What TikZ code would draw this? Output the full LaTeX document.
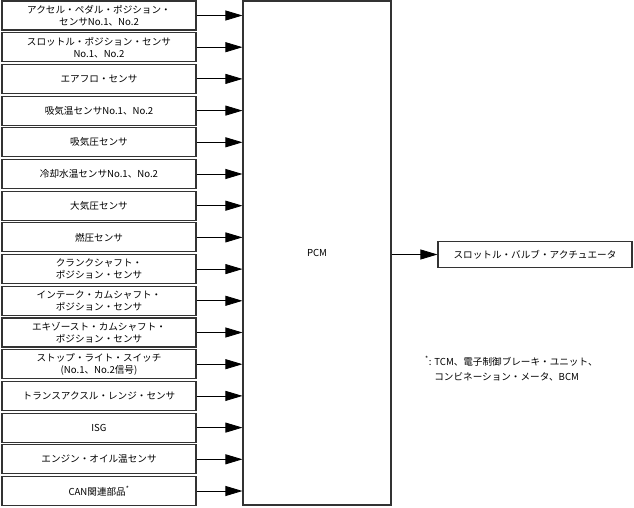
\documentclass[tikz,border=0pt]{standalone}
\usepackage{fontspec}
\setmainfont{Noto Sans CJK JP}
\usepackage{tikz}
\usetikzlibrary{arrows.meta}

\begin{document}
\begin{tikzpicture}[x=1pt, y=1pt, font=\fontsize{9.6}{12}\selectfont,
  sens/.style={draw=black!80, line width=1.1pt, minimum width=194pt,
               minimum height=29pt, inner sep=0pt, align=center},
  unit/.style={draw=black!80, line width=1.1pt, minimum width=148pt,
               minimum height=504pt, inner sep=0pt},
  act/.style={draw=black!80, line width=1.1pt, minimum width=194pt,
              minimum height=26pt, inner sep=0pt},
  arr/.style={-{Triangle[length=17pt, width=10pt]}, black, line width=0.8pt}
]
\useasboundingbox (0,0) rectangle (634,-508);

% inputs, top to bottom
\foreach \i/\t in {1/{アクセル・ペダル・ポジション・\\センサNo.1、No.2},
                   2/{スロットル・ポジション・センサ\\No.1、No.2},
                   3/{エアフロ・センサ},
                   4/{吸気温センサNo.1、No.2},
                   5/{吸気圧センサ},
                   6/{冷却水温センサNo.1、No.2},
                   7/{大気圧センサ},
                   8/{燃圧センサ},
                   9/{クランクシャフト・\\ポジション・センサ},
                   10/{インテーク・カムシャフト・\\ポジション・センサ},
                   11/{エキゾースト・カムシャフト・\\ポジション・センサ},
                   12/{ストップ・ライト・スイッチ\\(No.1、No.2信号)},
                   13/{トランスアクスル・レンジ・センサ},
                   14/{ISG},
                   15/{エンジン・オイル温センサ},
                   16/{CAN関連部品\textsuperscript{*}}}
  \node[sens] (s\i) at (99,{-15.5-(\i-1)*31.7}) {\t};

\node[unit] (pcm) at (317,-253) {PCM};

\foreach \i in {1,...,16} \draw[arr] (s\i.east) -- (s\i.east -| pcm.west);

% output
\node[act] (thr) at (535,-254.5) {スロットル・バルブ・アクチュエータ};
\draw[arr] (thr.west -| pcm.east) -- (thr.west);

% footnote
\node[anchor=north west, align=left, inner sep=0pt,
      font=\fontsize{9.6}{15}\selectfont] (note) at (425,-356)
  {\textsuperscript{*}: TCM、電子制御ブレーキ・ユニット、\\
   \hphantom{\textsuperscript{*}: }コンビネーション・メータ、BCM};
\end{tikzpicture}
\end{document}
